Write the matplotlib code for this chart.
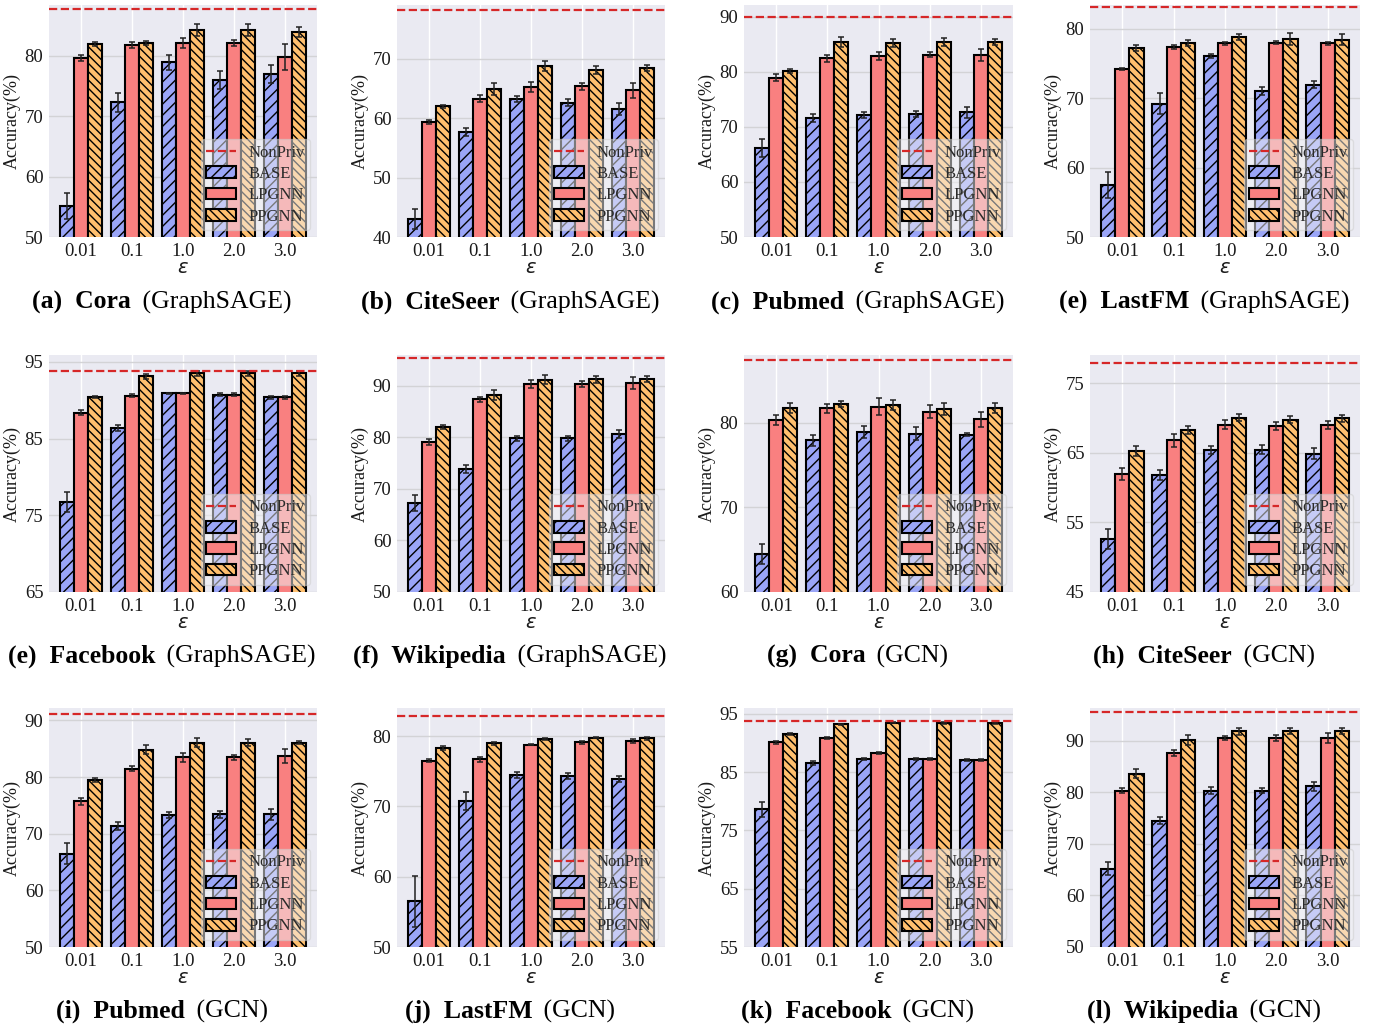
import matplotlib
matplotlib.use("Agg")
import matplotlib.pyplot as plt
import numpy as np

plt.rcParams['font.family'] = ['Liberation Serif', 'DejaVu Serif']
plt.rcParams['mathtext.fontset'] = 'dejavusans'
plt.rcParams['hatch.linewidth'] = 1.0

eps_labels = ["0.01", "0.1", "1.0", "2.0", "3.0"]
series_names = ["BASE", "LPGNN", "PPGNN"]

# ---- (a) Cora GraphSAGE
cora_sage_base = [55.1, 72.3, 78.9, 76.0, 77.0]
cora_sage_base_err = [2.2, 1.6, 1.2, 1.5, 1.5]
cora_sage_lp = [79.6, 81.8, 82.1, 82.1, 79.8]
cora_sage_lp_err = [0.5, 0.5, 0.8, 0.5, 2.2]
cora_sage_pp = [81.9, 82.1, 84.2, 84.2, 83.9]
cora_sage_pp_err = [0.3, 0.4, 1.0, 1.0, 0.8]
cora_sage_nonpriv = 87.7

# ---- (b) CiteSeer GraphSAGE
cite_sage_base = [43.1, 57.7, 63.2, 62.6, 61.6]
cite_sage_base_err = [1.7, 0.7, 0.5, 0.6, 1.0]
cite_sage_lp = [59.4, 63.3, 65.3, 65.4, 64.7]
cite_sage_lp_err = [0.4, 0.6, 0.8, 0.6, 1.2]
cite_sage_pp = [62.0, 65.0, 68.8, 68.2, 68.5]
cite_sage_pp_err = [0.3, 1.0, 0.9, 0.7, 0.5]
cite_sage_nonpriv = 78.2

# ---- (c) Pubmed GraphSAGE
pub_sage_base = [66.2, 71.6, 72.1, 72.3, 72.6]
pub_sage_base_err = [1.6, 0.7, 0.5, 0.5, 1.0]
pub_sage_lp = [78.9, 82.4, 82.8, 83.1, 83.1]
pub_sage_lp_err = [0.6, 0.6, 0.7, 0.5, 1.1]
pub_sage_pp = [80.1, 85.4, 85.2, 85.4, 85.4]
pub_sage_pp_err = [0.3, 0.9, 0.8, 0.7, 0.5]
pub_sage_nonpriv = 90.0

# ---- (e) LastFM GraphSAGE
lfm_sage_base = [57.5, 69.2, 76.1, 71.0, 71.9]
lfm_sage_base_err = [1.9, 1.5, 0.3, 0.6, 0.5]
lfm_sage_lp = [74.2, 77.4, 77.9, 78.0, 77.9]
lfm_sage_lp_err = [0.2, 0.3, 0.2, 0.2, 0.2]
lfm_sage_pp = [77.2, 77.9, 78.8, 78.5, 78.4]
lfm_sage_pp_err = [0.4, 0.4, 0.4, 0.8, 0.8]
lfm_sage_nonpriv = 83.1

# ---- (e) Facebook GraphSAGE
fb_sage_base = [76.7, 86.4, 90.9, 90.7, 90.4]
fb_sage_base_err = [1.3, 0.4, 0.1, 0.2, 0.2]
fb_sage_lp = [88.4, 90.6, 90.9, 90.7, 90.4]
fb_sage_lp_err = [0.3, 0.2, 0.1, 0.2, 0.2]
fb_sage_pp = [90.4, 93.1, 93.5, 93.5, 93.5]
fb_sage_pp_err = [0.1, 0.3, 0.3, 0.3, 0.3]
fb_sage_nonpriv = 93.8

# ---- (f) Wikipedia GraphSAGE
wiki_sage_base = [67.3, 73.9, 79.8, 79.8, 80.6]
wiki_sage_base_err = [1.6, 0.8, 0.4, 0.5, 0.8]
wiki_sage_lp = [79.1, 87.4, 90.3, 90.3, 90.6]
wiki_sage_lp_err = [0.5, 0.5, 0.8, 0.6, 1.2]
wiki_sage_pp = [82.1, 88.3, 91.2, 91.3, 91.3]
wiki_sage_pp_err = [0.4, 1.0, 0.9, 0.7, 0.6]
wiki_sage_nonpriv = 95.4

# ---- (g) Cora GCN
cora_gcn_base = [64.5, 77.9, 78.9, 78.7, 78.6]
cora_gcn_base_err = [1.2, 0.7, 0.7, 0.8, 0.2]
cora_gcn_lp = [80.3, 81.7, 81.9, 81.3, 80.4]
cora_gcn_lp_err = [0.6, 0.5, 1.0, 0.8, 0.9]
cora_gcn_pp = [81.7, 82.2, 82.1, 81.6, 81.7]
cora_gcn_pp_err = [0.6, 0.4, 0.6, 0.7, 0.6]
cora_gcn_nonpriv = 87.4

# ---- (h) CiteSeer GCN
cite_gcn_base = [52.6, 61.8, 65.4, 65.5, 64.9]
cite_gcn_base_err = [1.4, 0.7, 0.6, 0.7, 0.8]
cite_gcn_lp = [62.0, 66.8, 69.1, 68.9, 69.0]
cite_gcn_lp_err = [0.9, 0.9, 0.6, 0.6, 0.6]
cite_gcn_pp = [65.3, 68.3, 70.1, 69.8, 70.0]
cite_gcn_pp_err = [0.7, 0.6, 0.5, 0.5, 0.5]
cite_gcn_nonpriv = 77.9

# ---- (i) Pubmed GCN
pub_gcn_base = [66.5, 71.3, 73.3, 73.4, 73.4]
pub_gcn_base_err = [1.8, 0.7, 0.5, 0.6, 1.0]
pub_gcn_lp = [75.7, 81.5, 83.5, 83.5, 83.7]
pub_gcn_lp_err = [0.6, 0.5, 0.8, 0.4, 1.2]
pub_gcn_pp = [79.5, 84.8, 86.1, 86.1, 86.1]
pub_gcn_pp_err = [0.3, 0.8, 0.8, 0.6, 0.3]
pub_gcn_nonpriv = 91.1

# ---- (j) LastFM GCN
lfm_gcn_base = [56.5, 70.8, 74.5, 74.3, 73.9]
lfm_gcn_base_err = [3.6, 1.3, 0.4, 0.4, 0.4]
lfm_gcn_lp = [76.5, 76.7, 78.8, 79.1, 79.3]
lfm_gcn_lp_err = [0.2, 0.4, 0.1, 0.2, 0.3]
lfm_gcn_pp = [78.3, 79.0, 79.6, 79.8, 79.7]
lfm_gcn_pp_err = [0.3, 0.2, 0.2, 0.1, 0.2]
lfm_gcn_nonpriv = 82.9

# ---- (k) Facebook GCN
fb_gcn_base = [78.6, 86.6, 87.3, 87.2, 87.1]
fb_gcn_base_err = [1.3, 0.3, 0.2, 0.2, 0.2]
fb_gcn_lp = [90.1, 90.9, 88.3, 87.2, 87.1]
fb_gcn_lp_err = [0.2, 0.2, 0.2, 0.2, 0.2]
fb_gcn_pp = [91.5, 93.2, 93.5, 93.4, 93.4]
fb_gcn_pp_err = [0.2, 0.1, 0.1, 0.2, 0.2]
fb_gcn_nonpriv = 93.7

# ---- (l) Wikipedia GCN
wiki_gcn_base = [65.2, 74.5, 80.3, 80.3, 81.1]
wiki_gcn_base_err = [1.2, 0.6, 0.6, 0.5, 0.8]
wiki_gcn_lp = [80.3, 87.6, 90.5, 90.5, 90.5]
wiki_gcn_lp_err = [0.5, 0.6, 0.4, 0.6, 1.0]
wiki_gcn_pp = [83.6, 90.1, 91.8, 91.8, 91.8]
wiki_gcn_pp_err = [0.9, 1.0, 0.7, 0.6, 0.6]
wiki_gcn_nonpriv = 95.5

caption_tags = ["(a)", "(b)", "(c)", "(e)", "(e)", "(f)", "(g)", "(h)", "(i)", "(j)", "(k)", "(l)"]
caption_datasets = ["Cora", "CiteSeer", "Pubmed", "LastFM", "Facebook", "Wikipedia",
                    "Cora", "CiteSeer", "Pubmed", "LastFM", "Facebook", "Wikipedia"]
caption_models = ["GraphSAGE"] * 6 + ["GCN"] * 6

y_limits = [(50, 88.4), (40, 79.1), (50, 92.1), (50, 83.4), (65, 95.9), (50, 96.0),
            (60, 88.0), (45, 79.1), (50, 92.2), (50, 84.0), (55, 96.0), (50, 96.3)]
y_ticks = [[50, 60, 70, 80], [40, 50, 60, 70], [50, 60, 70, 80, 90], [50, 60, 70, 80],
           [65, 75, 85, 95], [50, 60, 70, 80, 90], [60, 70, 80], [45, 55, 65, 75],
           [50, 60, 70, 80, 90], [50, 60, 70, 80], [55, 65, 75, 85, 95], [50, 60, 70, 80, 90]]

panels = [
    (cora_sage_base, cora_sage_base_err, cora_sage_lp, cora_sage_lp_err, cora_sage_pp, cora_sage_pp_err, cora_sage_nonpriv),
    (cite_sage_base, cite_sage_base_err, cite_sage_lp, cite_sage_lp_err, cite_sage_pp, cite_sage_pp_err, cite_sage_nonpriv),
    (pub_sage_base, pub_sage_base_err, pub_sage_lp, pub_sage_lp_err, pub_sage_pp, pub_sage_pp_err, pub_sage_nonpriv),
    (lfm_sage_base, lfm_sage_base_err, lfm_sage_lp, lfm_sage_lp_err, lfm_sage_pp, lfm_sage_pp_err, lfm_sage_nonpriv),
    (fb_sage_base, fb_sage_base_err, fb_sage_lp, fb_sage_lp_err, fb_sage_pp, fb_sage_pp_err, fb_sage_nonpriv),
    (wiki_sage_base, wiki_sage_base_err, wiki_sage_lp, wiki_sage_lp_err, wiki_sage_pp, wiki_sage_pp_err, wiki_sage_nonpriv),
    (cora_gcn_base, cora_gcn_base_err, cora_gcn_lp, cora_gcn_lp_err, cora_gcn_pp, cora_gcn_pp_err, cora_gcn_nonpriv),
    (cite_gcn_base, cite_gcn_base_err, cite_gcn_lp, cite_gcn_lp_err, cite_gcn_pp, cite_gcn_pp_err, cite_gcn_nonpriv),
    (pub_gcn_base, pub_gcn_base_err, pub_gcn_lp, pub_gcn_lp_err, pub_gcn_pp, pub_gcn_pp_err, pub_gcn_nonpriv),
    (lfm_gcn_base, lfm_gcn_base_err, lfm_gcn_lp, lfm_gcn_lp_err, lfm_gcn_pp, lfm_gcn_pp_err, lfm_gcn_nonpriv),
    (fb_gcn_base, fb_gcn_base_err, fb_gcn_lp, fb_gcn_lp_err, fb_gcn_pp, fb_gcn_pp_err, fb_gcn_nonpriv),
    (wiki_gcn_base, wiki_gcn_base_err, wiki_gcn_lp, wiki_gcn_lp_err, wiki_gcn_pp, wiki_gcn_pp_err, wiki_gcn_nonpriv),
]

W, H = 1380, 1027
fig = plt.figure(figsize=(W / 100, H / 100), dpi=100)
fig.patch.set_facecolor('white')

col_lr = [(49, 317), (397, 665), (744, 1013), (1090, 1360)]
row_tb = [(5, 237), (355, 592), (708, 947)]
caption_y = [302, 656, 1011]

colors = ["#9aa5f7", "#f98080", "#ffbf6e"]
hatches = ["///", None, "\\\\\\\\"]
bw = 0.275
x = np.arange(len(eps_labels))

for i, p in enumerate(panels):
    r, c = divmod(i, 4)
    l, rr = col_lr[c]
    t, b = row_tb[r]
    ax = fig.add_axes([l / W, 1 - b / H, (rr - l) / W, (b - t) / H])
    ax.set_facecolor('#eaeaf2')
    for s in ax.spines.values():
        s.set_visible(False)
    ax.set_axisbelow(True)
    ax.yaxis.grid(True, color='#d3d3d6', lw=1.0)
    ax.xaxis.grid(True, color='white', lw=1.0)
    base, base_e, lp, lp_e, pp, pp_e, nonpriv = p
    vals = [base, lp, pp]
    errs = [base_e, lp_e, pp_e]
    ax.axhline(nonpriv, color='#d62728', ls='--', lw=1.6, label='NonPriv', zorder=3)
    for k in range(3):
        ax.bar(x + (k - 1) * bw, vals[k], bw, yerr=errs[k], color=colors[k],
               edgecolor='black', linewidth=1.5, hatch=hatches[k], label=series_names[k],
               error_kw=dict(ecolor='#222222', elinewidth=1.1, capsize=2, capthick=1.1), zorder=2)
    ax.set_xlim(-0.63, 4.63)
    ax.set_ylim(*y_limits[i])
    ax.set_yticks(y_ticks[i])
    ax.set_xticks(x)
    ax.set_xticklabels(eps_labels)
    ax.tick_params(axis='both', length=0, labelsize=13.5, pad=4, colors='#1a1a1a')
    ax.set_ylabel('Accuracy(%)', fontsize=13, labelpad=3, color='#1a1a1a')
    ax.set_xlabel('$\u03b5$', fontsize=14, labelpad=0, color='#1a1a1a')
    leg = ax.legend(loc='lower right', fontsize=12, framealpha=0.5, facecolor='#f2f2f5',
                    edgecolor='#cccccc', handlelength=1.8, handleheight=0.7,
                    borderpad=0.35, labelspacing=0.32, handletextpad=0.7, borderaxespad=0.4)
    for txt in leg.get_texts():
        txt.set_color('#2a2a2a')

fig.canvas.draw()
renderer = fig.canvas.get_renderer()
for i in range(len(panels)):
    r, c = divmod(i, 4)
    l, rr = col_lr[c]
    cx = (l - 42 + rr) / 2
    cy = caption_y[r]
    t1 = fig.text(0, 0, caption_tags[i] + "  " + caption_datasets[i], fontsize=18.5, fontweight='bold',
                  ha='left', va='center')
    t2 = fig.text(0, 0, " (" + caption_models[i] + ")", fontsize=18.5, ha='left', va='center')
    w1 = t1.get_window_extent(renderer).width
    w2 = t2.get_window_extent(renderer).width
    gap = 5
    start = cx - (w1 + w2 + gap) / 2
    t1.set_position((start / W, 1 - cy / H))
    t2.set_position(((start + w1 + gap) / W, 1 - cy / H))

fig.savefig('out.png', dpi=100, facecolor='white')
